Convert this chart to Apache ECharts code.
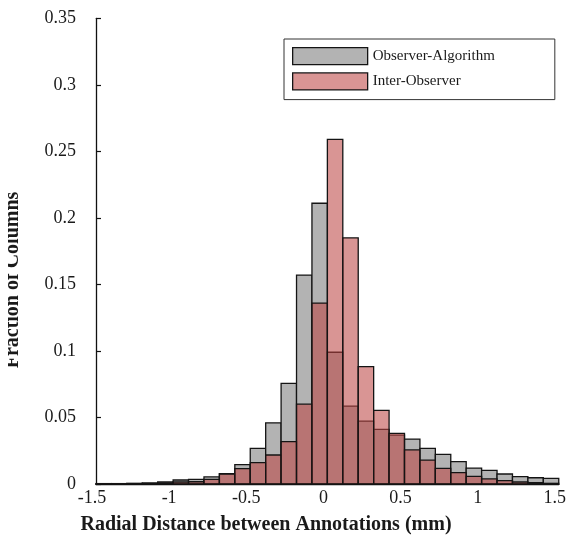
<!DOCTYPE html>
<html>
<head>
<meta charset="utf-8">
<script src="https://cdn.jsdelivr.net/npm/echarts@6/dist/echarts.min.js"></script>
<style>html,body{margin:0;padding:0;background:#fff;}#c{width:569px;height:550px;}</style>
</head>
<body>
<div id="c"></div>
<script>
// ---- data ----
var binWidth = 0.1;
var binLo = [-1.5,-1.4,-1.3,-1.2,-1.1,-1.0,-0.9,-0.8,-0.7,-0.6,-0.5,-0.4,-0.3,-0.2,-0.1,
             0.0,0.1,0.2,0.3,0.4,0.5,0.6,0.7,0.8,0.9,1.0,1.1,1.2,1.3,1.4];
var observerAlgorithm = [0.0003,0.0003,0.0005,0.0008,0.0015,0.0030,0.0035,0.0053,0.0078,0.0145,
                         0.0268,0.0460,0.0757,0.1570,0.2110,0.0990,0.0586,0.0473,0.0411,0.0368,
                         0.0338,0.0268,0.0223,0.0168,0.0120,0.0103,0.0075,0.0055,0.0047,0.0043];
var interObserver = [0.0001,0.0002,0.0003,0.0004,0.0008,0.0015,0.0017,0.0035,0.0075,0.0115,
                     0.0160,0.0218,0.0318,0.0600,0.1360,0.2590,0.1850,0.0882,0.0554,0.0381,
                     0.0256,0.0180,0.0118,0.0085,0.0058,0.0038,0.0025,0.0015,0.0010,0.0005];
var seriesNames = ['Observer-Algorithm','Inter-Observer'];
var xTicks = [-1.5,-1,-0.5,0,0.5,1,1.5];
var yTicks = [0,0.05,0.1,0.15,0.2,0.25,0.3,0.35];
var xTitle = 'Radial Distance between Annotations (mm)';
var yTitle = 'Fraction of Columns';

function toData(vals){
  return vals.map(function(v,i){ return [binLo[i], +(binLo[i]+binWidth).toFixed(2), v]; });
}
function rectItem(fill){
  return function(params, api){
    var p0 = api.coord([api.value(0), api.value(2)]);
    var p1 = api.coord([api.value(1), 0]);
    return {type:'rect', shape:{x:p0[0], y:p0[1], width:p1[0]-p0[0], height:p1[1]-p0[1]},
            style:{fill:fill, stroke:'#141414', lineWidth:1.3}};
  };
}
var grayCol = '#b3b3b3';
var pinkCol = 'rgba(188,68,66,0.57)';
var serif = '"Liberation Serif","DejaVu Serif",serif';

var chart = echarts.init(document.getElementById('c'), null, {renderer:'canvas'});
chart.setOption({
  animation:false,
  backgroundColor:'#fff',
  grid:{left:96, right:6.5, top:18.3, bottom:66},
  legend:{
    orient:'vertical', left:284, top:39,
    padding:[8,60,9,8], itemGap:7, itemWidth:75, itemHeight:17,
    borderColor:'#333', borderWidth:1, backgroundColor:'#fff',
    textStyle:{fontFamily:serif, fontSize:15, color:'#1a1a1a', padding:[0,0,8,0]},
    data:[
      {name:seriesNames[0], icon:'rect', itemStyle:{color:grayCol, borderColor:'#141414', borderWidth:1.3}},
      {name:seriesNames[1], icon:'rect', itemStyle:{color:pinkCol, borderColor:'#141414', borderWidth:1.3}}
    ]
  },
  xAxis:{
    type:'value', min:xTicks[0], max:xTicks[xTicks.length-1], interval:0.5,
    splitLine:{show:false},
    axisLine:{show:true, onZero:false, lineStyle:{color:'#111', width:1.3}},
    axisTick:{show:false},
    axisLabel:{fontFamily:serif, fontSize:18, color:'#1a1a1a', margin:5, padding:[0,8,0,0],
      showMinLabel:true, showMaxLabel:true,
      formatter:function(v){ return String(+v.toFixed(2)); }}
  },
  yAxis:{
    type:'value', min:yTicks[0], max:yTicks[yTicks.length-1], interval:0.05,
    splitLine:{show:false},
    axisLine:{show:true, onZero:false, lineStyle:{color:'#111', width:1.3}},
    axisTick:{show:true, inside:true, length:5, lineStyle:{color:'#111', width:1.2}},
    axisLabel:{fontFamily:serif, fontSize:18, color:'#1a1a1a', margin:20, padding:[0,0,10,0],
      formatter:function(v){ return String(+v.toFixed(2)); }}
  },
  graphic:[
    {type:'text', position:[266,525], style:{text:xTitle, x:0, y:0, fontFamily:serif, fontSize:20, fontWeight:'bold', fill:'#1a1a1a', textAlign:'center', textVerticalAlign:'middle'}},
    {type:'text', position:[23,280], rotation:Math.PI/2, style:{text:yTitle, x:0, y:0, fontFamily:serif, fontSize:20, fontWeight:'bold', fill:'#1a1a1a', textAlign:'center', textVerticalAlign:'bottom'}, z:10},
    {type:'rect', shape:{x:0, y:150, width:8, height:260}, style:{fill:'#fff'}, z:20}
  ],
  series:[
    {name:seriesNames[0], type:'custom', renderItem:rectItem(grayCol), itemStyle:{color:grayCol},
     encode:{x:[0,1], y:2}, data:toData(observerAlgorithm), z:2},
    {name:seriesNames[1], type:'custom', renderItem:rectItem(pinkCol), itemStyle:{color:pinkCol},
     encode:{x:[0,1], y:2}, data:toData(interObserver), z:3}
  ]
});
</script>
</body>
</html>
